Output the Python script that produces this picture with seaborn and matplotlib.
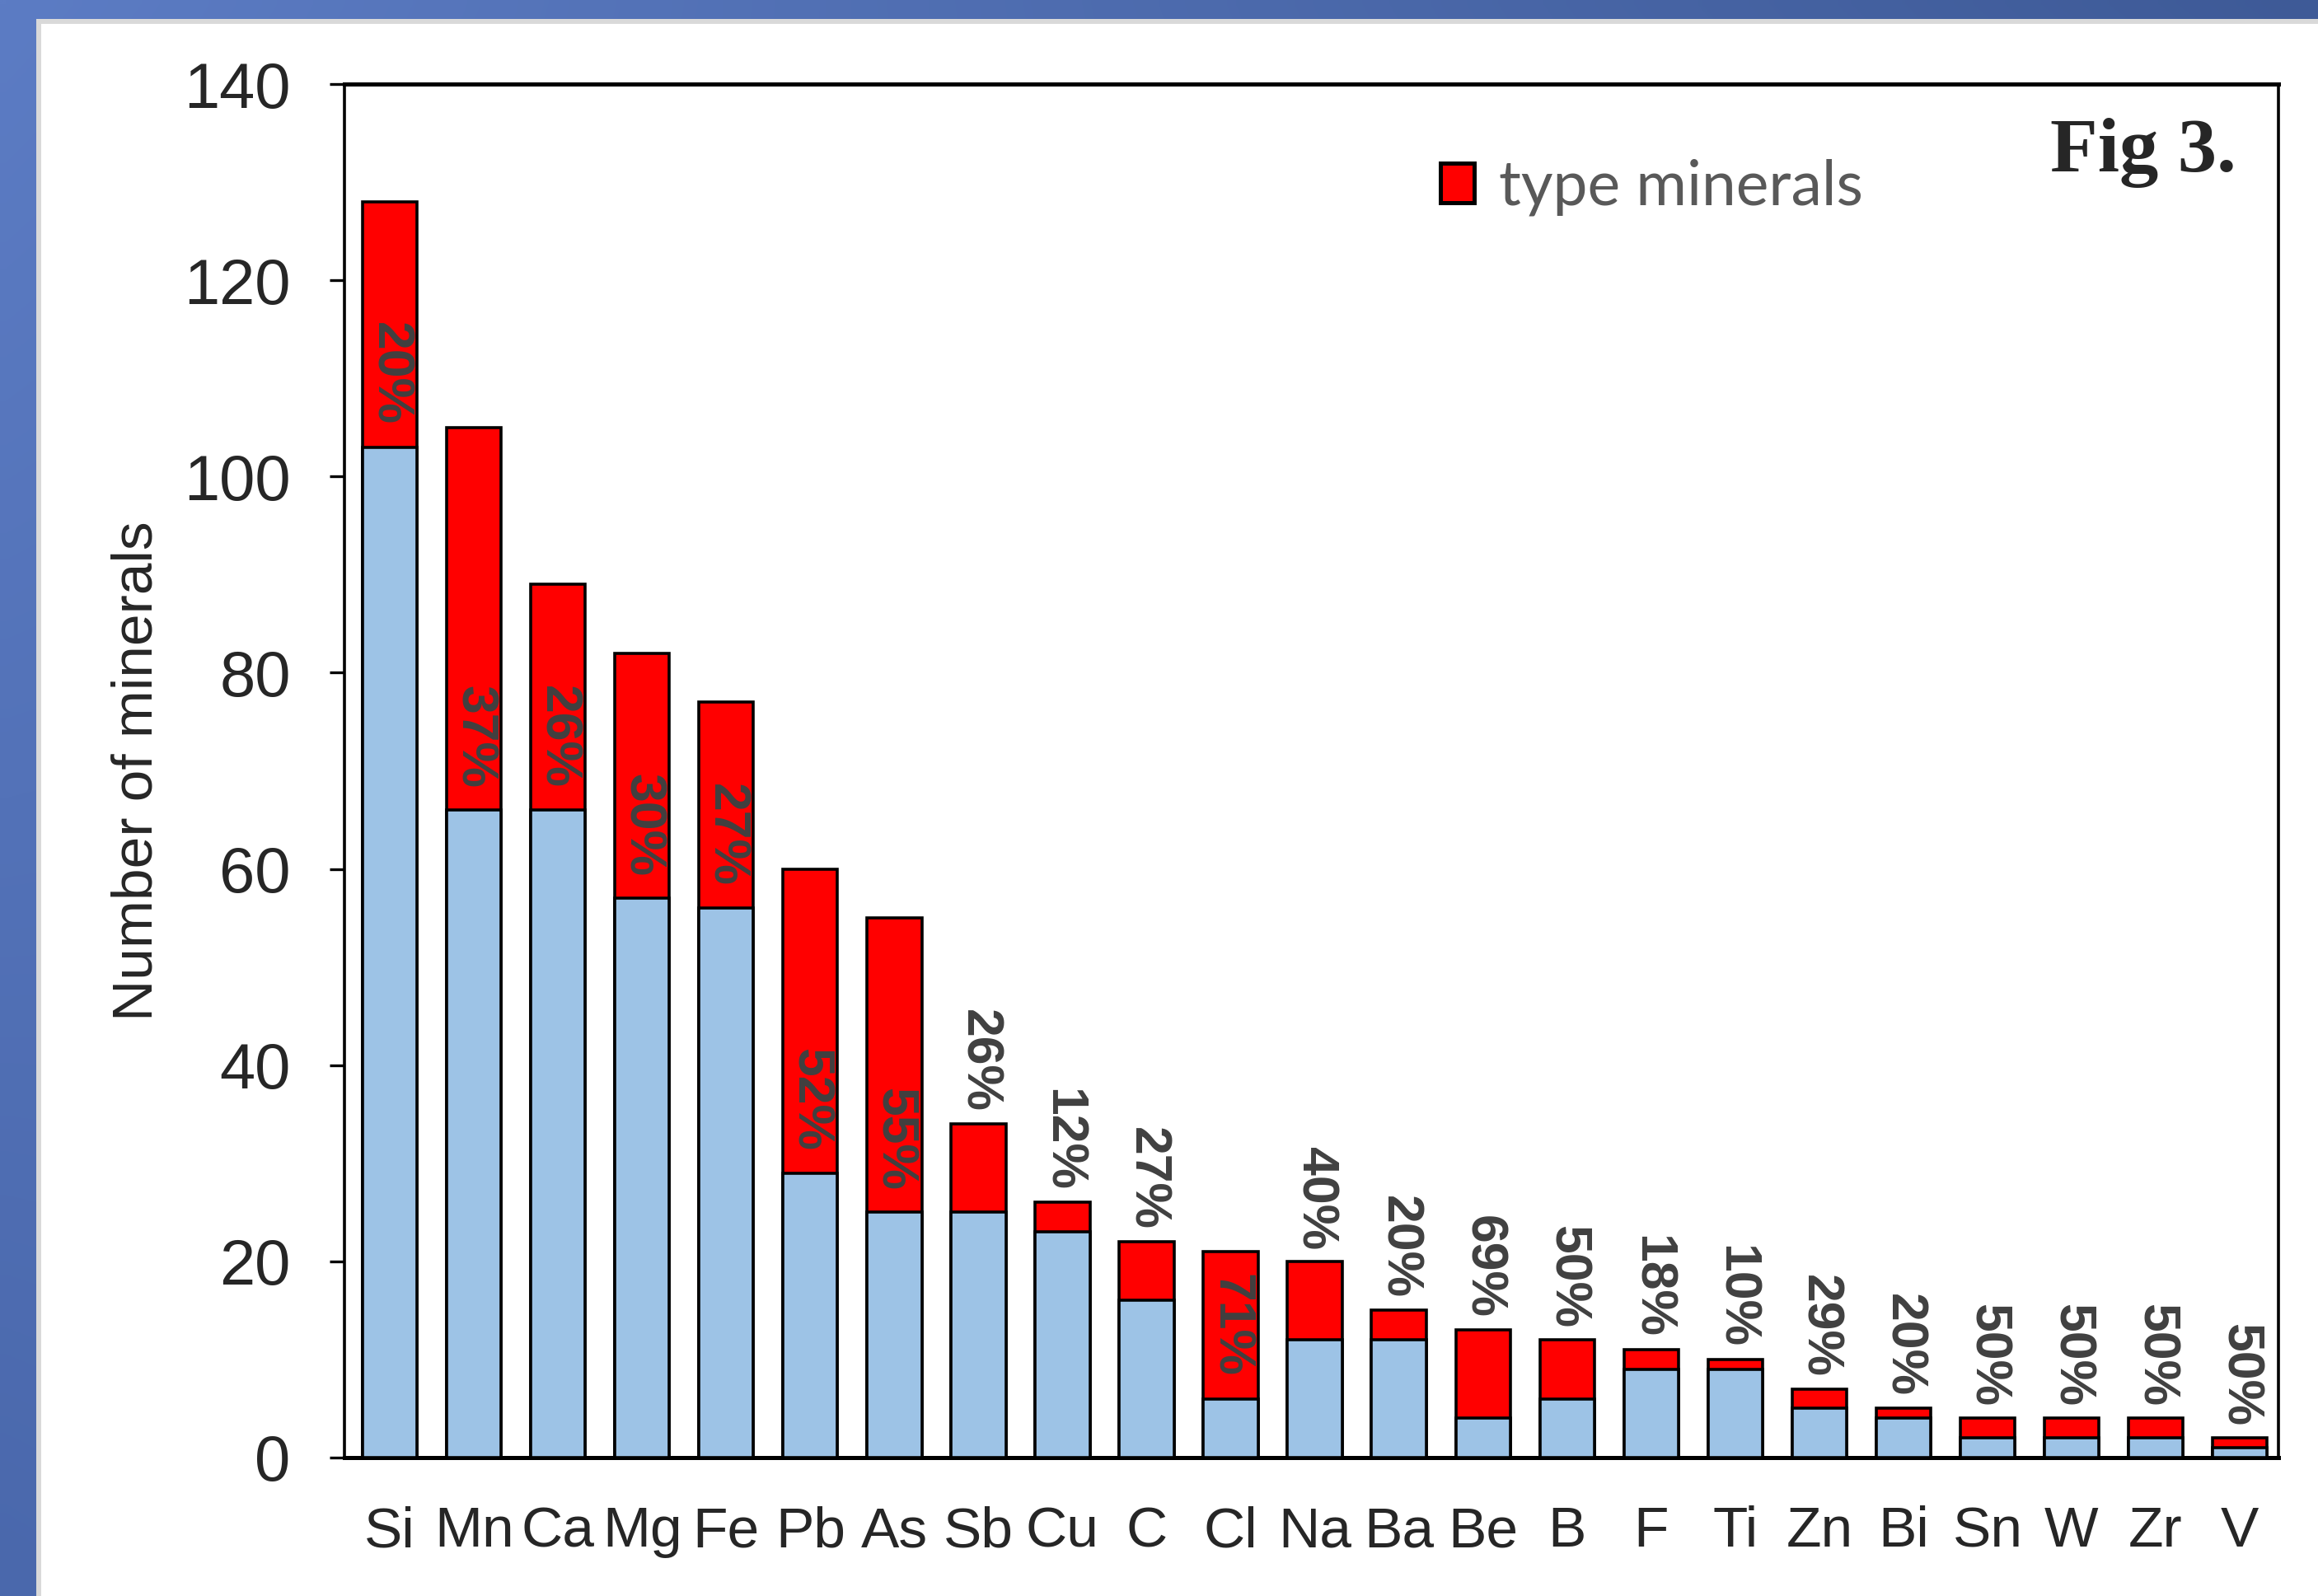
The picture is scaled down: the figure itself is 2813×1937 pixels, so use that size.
import numpy as np
import pandas as pd
import matplotlib
matplotlib.use("Agg")
import matplotlib.pyplot as plt
import seaborn as sns
from matplotlib.patches import Rectangle, Patch

# data
elements = ['Si', 'Mn', 'Ca', 'Mg', 'Fe', 'Pb', 'As', 'Sb', 'Cu', 'C', 'Cl', 'Na',
            'Ba', 'Be', 'B', 'F', 'Ti', 'Zn', 'Bi', 'Sn', 'W', 'Zr', 'V']
total = [128, 105, 89, 82, 77, 60, 55, 34, 26, 22, 21, 20, 15, 13, 12, 11, 10, 7, 5, 4, 4, 4, 2]
other = [103, 66, 66, 57, 56, 29, 25, 25, 23, 16, 6, 12, 12, 4, 6, 9, 9, 5, 4, 2, 2, 2, 1]
pct_labels = ['20%', '37%', '26%', '30%', '27%', '52%', '55%', '26%', '12%', '27%', '71%', '40%',
              '20%', '69%', '50%', '18%', '10%', '29%', '20%', '50%', '50%', '50%', '50%']
yticks = [0, 20, 40, 60, 80, 100, 120, 140]

df = pd.DataFrame({'el': elements, 'total': total, 'other': other, 'pct': pct_labels})
df['type'] = df['total'] - df['other']

sns.set_style('white')
plt.rcParams['font.family'] = ['Liberation Sans', 'DejaVu Sans']

W, H = 2813, 1937
fig = plt.figure(figsize=(W / 200, H / 200), dpi=200)

# slide-like frame: blue bands left and top, grey edge, white panel
bg = fig.add_axes([0, 0, 1, 1], zorder=-10)
bg.set_xlim(0, W)
bg.set_ylim(H, 0)
bg.axis('off')
yy = np.linspace(0, 1, 200)[:, None]
xx = np.linspace(0, 1, 200)[None, :]
c0 = np.array([0x5c, 0x7c, 0xc4]) / 255
c1 = np.array([0x3e, 0x5a, 0x97]) / 255
c2 = np.array([0x4a, 0x68, 0xac]) / 255
grad = c0 + (c1 - c0) * xx[..., None] * (1 - yy[..., None]) + (c2 - c0) * yy[..., None] * (1 - xx[..., None])
bg.imshow(grad, extent=(0, W, H, 0), aspect='auto', interpolation='bilinear')
bg.add_patch(Rectangle((44, 23), W, H, facecolor='#d9d9d9', edgecolor='none'))
bg.add_patch(Rectangle((50, 29), W, H, facecolor='white', edgecolor='none'))

ax = fig.add_axes([418 / W, 1 - 1769 / H, (2765 - 418) / W, (1769 - 102) / H])
ax.set_facecolor('white')

sns.barplot(data=df, x='el', y='total', color='#ff0000', edgecolor='black', linewidth=1.3,
            width=0.65, saturation=1, ax=ax, zorder=2)
sns.barplot(data=df, x='el', y='other', color='#9dc3e6', edgecolor='black', linewidth=1.3,
            width=0.65, saturation=1, ax=ax, zorder=3)

ax.set_ylim(0, 140)
ax.set_xlim(-0.54, 22.46)
ax.set_yticks(yticks)
ax.tick_params(axis='y', direction='out', length=6.5, width=1.2, color='black',
               labelsize=28, pad=17, left=True)
ax.tick_params(axis='x', length=0, labelsize=25, pad=21)
ax.set_xlabel('')
ax.set_ylabel('Number of minerals', fontsize=25, labelpad=9)
for s in ax.spines.values():
    s.set_visible(True)
    s.set_color('black')
    s.set_linewidth(1.3)
ax.spines['bottom'].set_linewidth(1.8)
ax.spines['top'].set_linewidth(1.8)

# percentage labels: inside the red part when it is tall, otherwise above the bar
for i, row in df.iterrows():
    if row['type'] >= 15:
        ax.annotate(row['pct'], xy=(i, row['other']), xytext=(0, 9.5), textcoords='offset points',
                    rotation=270, ha='center', va='bottom', fontsize=22.5, fontweight='bold',
                    color='#404040', zorder=5)
    else:
        ax.annotate(row['pct'], xy=(i, row['total']), xytext=(0, 5), textcoords='offset points',
                    rotation=270, ha='center', va='bottom', fontsize=22.5, fontweight='bold',
                    color='#404040', zorder=5)

handle = Patch(facecolor='#ff0000', edgecolor='black', linewidth=1.8)
leg = ax.legend([handle], ['type minerals'], loc='center left', bbox_to_anchor=(0.538, 0.925),
                frameon=False, handlelength=0.55, handleheight=0.6, handletextpad=0.4,
                prop={'family': ['Lato', 'DejaVu Sans'], 'size': 27})
for t in leg.get_texts():
    t.set_color('#595959')

ax.text(0.978, 0.95, 'Fig 3.', transform=ax.transAxes, ha='right', va='center',
        fontsize=34, fontweight='bold', family=['Liberation Serif', 'DejaVu Serif'])

fig.savefig('out.png', dpi=200)
